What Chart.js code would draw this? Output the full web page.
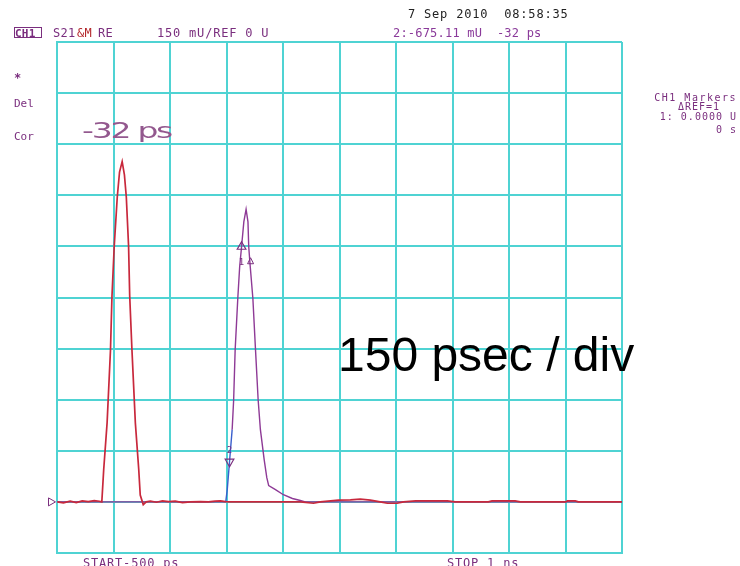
<!DOCTYPE html>
<html>
<head>
<meta charset="utf-8">
<script src="https://cdn.jsdelivr.net/npm/chart.js@4.4.0/dist/chart.umd.min.js"></script>
<style>
  body { margin: 0; background: #fff; }
  canvas { display: block; }
</style>
</head>
<body>
<canvas id="trace" width="740" height="566"></canvas>
<script>
// time axis (ps) and value axis (mU), 150 ps/div and 150 mU/div
const xTicks = [-500, -350, -200, -50, 100, 250, 400, 550, 700, 850, 1000];
const yTicks = [-150, 0, 150, 300, 450, 600, 750, 900, 1050, 1200, 1350];

// memory trace (red): first pulse + baseline ripple
const memTime = [-499, -483, -465, -449, -433, -417, -401, -388, -381, -376, -367, -358, -354, -348, -340, -334, -327,
    -321, -316, -310, -307, -301, -292, -283, -279, -271, -263, -252, -236, -220, -204, -186, -167, -146, -119, -98, -80,
    -66, -53, -40, 13, 66, 146, 181, 199, 247, 279, 305, 332, 358, 377, 403, 420, 452, 536, 558, 645, 655, 716, 730,
    850, 855, 876, 884, 1000];
const memValue = [0, -3, 2, -2, 3, 1, 4, 2, 0, 95, 232, 446, 605, 752, 895, 968, 999,
    960, 895, 752, 605, 446, 232, 95, 20, -8, 0, 2, -1, 3, 1, 2, -2, 0, 1, 0, 2,
    3, 1, 0, 0, 0, 0, -4, 0, 5, 6, 8, 5, 0, -4, -4, 0, 3, 3, 0, 0, 3, 3, 0,
    0, 3, 3, 0, 0];

// data trace (purple): delayed pulse
const dataTime = [-500, -52, -48, -42, -35, -31, -27, -20, -15, -10, -4, 2, 7, 9, 13, 20, 27, 34, 40, 50, 57, 62,
    80, 101, 125, 146, 159, 1000];
const dataValue = [0, 0, 36, 118, 212, 300, 447, 598, 691, 749, 822, 859, 822, 749, 691, 598, 447, 300, 212, 124, 71, 48,
    36, 21, 10, 4, 0, 0];

// markers 1 and 2
const markerTime = [-10, -42];
const markerValue = [749, 118];
const markerNames = ['1', '2'];

const gridColor = '#4fd3d3';
const purple = '#7a2e7e';

const toPoints = (xs, ys) => xs.map((x, i) => ({ x: x, y: ys[i] }));

const drawText = (ctx, text, x, y, color, font, spacing) => {
    ctx.font = font;
    ctx.fillStyle = color;
    ctx.letterSpacing = (spacing || 0) + 'px';
    ctx.fillText(text, x, y);
    ctx.letterSpacing = '0px';
};

const annotations = {
    id: 'annotations',
    afterDraw(chart) {
        const ctx = chart.ctx;
        const xs = chart.scales.x;
        const ys = chart.scales.y;
        ctx.save();
        ctx.textBaseline = 'alphabetic';
        ctx.textAlign = 'left';
        const mono = '12px "DejaVu Sans Mono"';
        const small = '11px "DejaVu Sans Mono"';
        const tiny = '10px "DejaVu Sans Mono"';

        // header
        drawText(ctx, '7 Sep 2010  08:58:35', 408, 18, '#222', mono, 0.8);
        ctx.strokeStyle = purple;
        ctx.lineWidth = 1;
        ctx.strokeRect(14.5, 27.5, 27, 10);
        drawText(ctx, 'CH1', 15, 37, purple, 'bold 11px "DejaVu Sans Mono"', 0.2);
        drawText(ctx, 'S21', 53, 37, purple, mono, 0.3);
        drawText(ctx, '&M', 77, 37, '#b3262a', mono, 0.3);
        drawText(ctx, 'RE', 98, 37, purple, mono, 0.3);
        drawText(ctx, '150 mU/REF 0 U', 157, 37, purple, mono, 0.8);
        drawText(ctx, '2:-675.11 mU  -32 ps', 393, 37, '#8a3a9a', mono, 0.2);

        // left status
        drawText(ctx, '*', 14, 82, purple, 'bold 12px "DejaVu Sans Mono"', 0);
        drawText(ctx, 'Del', 14, 107, purple, small, 0);
        drawText(ctx, 'Cor', 14, 140, purple, small, 0);

        // marker readout
        ctx.textAlign = 'right';
        drawText(ctx, 'CH1 Markers', 737, 101, purple, tiny, 1.5);
        drawText(ctx, '\u0394REF=1', 720, 110, purple, tiny, 1);
        drawText(ctx, '1: 0.0000 U', 737, 120, purple, tiny, 1);
        drawText(ctx, '0 s', 737, 133, purple, tiny, 1);
        ctx.textAlign = 'left';

        // footer
        drawText(ctx, 'START-500 ps', 83, 567, purple, mono, 0.8);
        drawText(ctx, 'STOP 1 ns', 447, 567, purple, mono, 0.8);

        // big delay label (wide, thin vector-style text)
        ctx.save();
        ctx.translate(82, 138);
        ctx.scale(1.5, 1);
        drawText(ctx, '-32 ps', 0, 0, '#93588e', '22px "DejaVu Sans"', -1.5);
        ctx.restore();

        drawText(ctx, '150 psec / div', 338, 371, '#000', '48px "Liberation Sans"', 0);

        // reference position arrow
        const y0 = ys.getPixelForValue(0);
        ctx.strokeStyle = purple;
        ctx.beginPath();
        ctx.moveTo(48.5, y0 - 4);
        ctx.lineTo(55.5, y0);
        ctx.lineTo(48.5, y0 + 4);
        ctx.closePath();
        ctx.stroke();

        // marker labels
        ctx.font = '9px "DejaVu Sans Mono"';
        ctx.fillStyle = purple;
        ctx.textAlign = 'center';
        const m1x = xs.getPixelForValue(markerTime[0]);
        const m1y = ys.getPixelForValue(markerValue[0]);
        ctx.fillText(markerNames[0], m1x, m1y + 18);
        ctx.beginPath();
        ctx.moveTo(m1x + 9, m1y + 11);
        ctx.lineTo(m1x + 12, m1y + 17);
        ctx.lineTo(m1x + 6, m1y + 17);
        ctx.closePath();
        ctx.stroke();
        const m2x = xs.getPixelForValue(markerTime[1]);
        const m2y = ys.getPixelForValue(markerValue[1]);
        ctx.fillText(markerNames[1], m2x, m2y - 9);
        ctx.restore();
    }
};

const ctx = document.getElementById('trace').getContext('2d');

new Chart(ctx, {
    type: 'scatter',
    data: {
        datasets: [{
            label: 'markers',
            data: toPoints(markerTime, markerValue),
            showLine: false,
            pointStyle: 'triangle',
            rotation: [0, 180],
            radius: 5,
            borderColor: purple,
            backgroundColor: 'rgba(0,0,0,0)',
            borderWidth: 1.2
        }, {
            label: 'M',
            data: toPoints(memTime, memValue),
            showLine: true,
            borderColor: '#c8283c',
            borderWidth: 1.7,
            pointRadius: 0,
            tension: 0
        }, {
            label: 'S21',
            data: toPoints(dataTime, dataValue),
            showLine: true,
            borderColor: '#8e3a96',
            borderWidth: 1.4,
            pointRadius: 0,
            tension: 0,
            segment: {
                borderColor: c => (c.p0.parsed.x >= -53 && c.p1.parsed.x <= -35) ? '#3a5fcd' : undefined
            }
        }]
    },
    options: {
        responsive: false,
        animation: false,
        layout: {
            padding: { left: 57, top: 42, right: 118, bottom: 13 }
        },
        scales: {
            x: {
                type: 'linear',
                min: xTicks[0],
                max: xTicks[xTicks.length - 1],
                afterBuildTicks: scale => { scale.ticks = xTicks.map(v => ({ value: v })); },
                ticks: { display: false },
                grid: { color: gridColor, lineWidth: 2, drawTicks: false },
                border: { color: gridColor, width: 2 }
            },
            y: {
                type: 'linear',
                min: yTicks[0],
                max: yTicks[yTicks.length - 1],
                afterBuildTicks: scale => { scale.ticks = yTicks.map(v => ({ value: v })); },
                ticks: { display: false },
                grid: { color: gridColor, lineWidth: 2, drawTicks: false },
                border: { color: gridColor, width: 2 }
            }
        },
        plugins: {
            legend: { display: false },
            tooltip: { enabled: false }
        }
    },
    plugins: [annotations]
});
</script>
</body>
</html>
